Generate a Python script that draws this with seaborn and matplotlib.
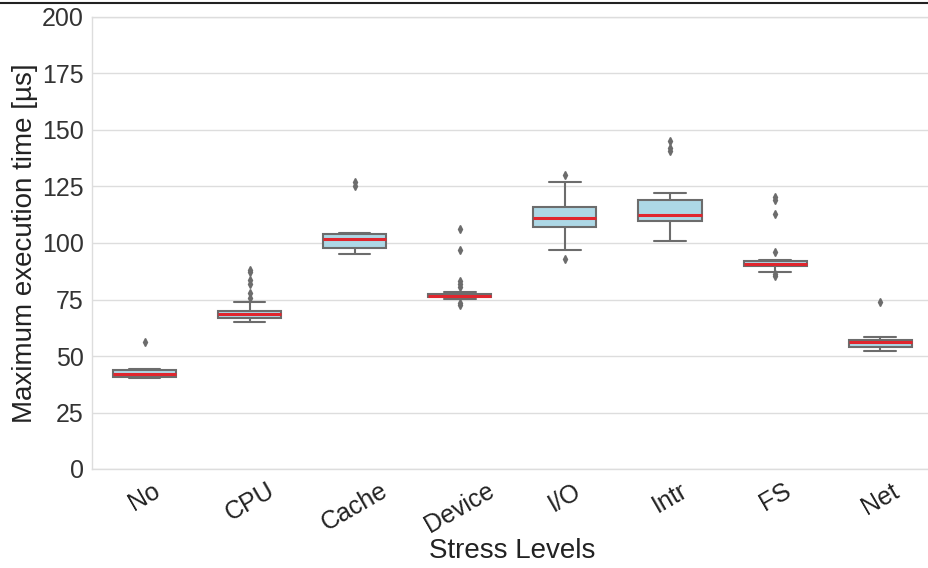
import matplotlib
matplotlib.use("Agg")
import matplotlib.pyplot as plt
from matplotlib.lines import Line2D
import pandas as pd
import seaborn as sns

# Maximum execution time samples [µs] per stress scenario
stress_levels = ["No", "CPU", "Cache", "Device", "I/O", "Intr", "FS", "Net"]

time_no = [40.4, 40.6, 40.7, 40.8, 40.9, 40.9, 41.2, 41.5, 41.7, 41.9, 42.0,
           42.4, 42.8, 43.2, 43.5, 43.8, 43.9, 44.0, 44.1, 44.2, 56.0]
time_cpu = [65.2, 65.6, 66.0, 66.2, 66.4, 66.6, 66.8, 66.9, 67.2, 67.5, 67.8,
            68.0, 68.2, 68.4, 68.6, 68.8, 69.0, 69.2, 69.4, 69.6, 69.8, 70.0,
            74.0, 75.5, 78.0, 82.0, 83.5, 87.0, 88.0]
time_cache = [95.0, 96.0, 96.8, 97.2, 97.5, 97.8, 98.5, 99.5, 100.5, 101.2,
              101.8, 102.3, 102.8, 103.3, 103.7, 104.1, 104.1, 104.2, 104.3,
              125.4, 126.9]
time_device = [72.5, 73.3, 75.2, 75.4, 75.5, 75.6, 75.7, 75.9, 76.0, 76.1,
               76.2, 76.3, 76.4, 76.4, 76.5, 76.5, 76.6, 76.7, 76.8, 76.9,
               77.0, 77.1, 77.3, 77.4, 77.6, 77.8, 78.0, 78.2, 80.5, 81.7,
               83.3, 97.0, 106.0]
time_io = [92.9, 97.0, 100.5, 103.0, 105.0, 106.9, 107.8, 108.6, 109.5, 110.4,
           111.2, 112.0, 112.8, 113.7, 114.8, 115.9, 117.5, 119.5, 122.0,
           127.0, 130.1]
time_intr = [100.9, 103.5, 105.5, 107.0, 108.2, 109.2, 109.9, 110.4, 110.9,
             111.4, 111.8, 112.2, 112.6, 113.5, 114.5, 115.5, 116.6, 117.8,
             119.0, 120.0, 121.0, 122.3, 140.8, 141.9, 145.3]
time_fs = [85.6, 86.1, 87.2, 88.0, 88.6, 89.0, 89.3, 89.6, 89.8, 89.9, 90.0,
           90.1, 90.2, 90.3, 90.4, 90.5, 90.6, 90.7, 90.8, 91.0, 91.2, 91.4,
           91.6, 91.8, 92.0, 92.1, 92.2, 92.4, 92.5, 95.9, 112.8, 119.0, 120.2]
time_net = [52.2, 52.6, 53.0, 53.3, 53.6, 53.8, 54.3, 54.8, 55.3, 55.8, 56.3,
            56.4, 56.6, 56.8, 57.0, 57.1, 57.4, 57.7, 58.0, 58.3, 74.0]

y_ticks = [0, 25, 50, 75, 100, 125, 150, 175, 200]

samples = [time_no, time_cpu, time_cache, time_device,
           time_io, time_intr, time_fs, time_net]
df = pd.DataFrame({
    "Stress": [lvl for lvl, vals in zip(stress_levels, samples) for _ in vals],
    "Time": [v for vals in samples for v in vals],
})

sns.set_theme(style="whitegrid")
plt.rcParams["font.family"] = ["Liberation Sans", "DejaVu Sans"]

fig = plt.figure(figsize=(9.29, 5.68), dpi=100)
ax = fig.add_axes([92 / 929, 99 / 568, 1 - 92 / 929 + 0.004, 452 / 568])

line_gray = "#6c6c6c"
sns.boxplot(
    data=df, x="Stress", y="Time", order=stress_levels, ax=ax,
    color="#add8e6", width=0.6, linecolor=line_gray, linewidth=1.5,
    medianprops=dict(color="#e0262e", linewidth=2.2),
    flierprops=dict(marker="d", markersize=4, markerfacecolor=line_gray,
                    markeredgecolor=line_gray),
    saturation=1,
)

ax.set_ylim(0, 200)
ax.set_yticks(y_ticks)
ax.set_xlim(-0.5, 7.5)
ax.grid(axis="y", color="#dddddd", linewidth=1.0)
ax.grid(axis="x", visible=False)
for side in ["left", "bottom", "top", "right"]:
    ax.spines[side].set_color("#dddddd")
    ax.spines[side].set_linewidth(1.0)

ax.tick_params(axis="y", length=0, labelsize=18, labelcolor="#333333", pad=6)
ax.tick_params(axis="x", length=0, labelsize=18, labelcolor="#222222",
               rotation=30, pad=7)
ax.set_xlabel("Stress Levels", fontsize=20, color="#222222", labelpad=0)
ax.set_ylabel("Maximum execution time [µs]", fontsize=20, color="#222222",
              labelpad=3)

# Rule across the top of the figure
fig.add_artist(Line2D([0, 1], [1 - 3 / 568, 1 - 3 / 568], color="#222222",
                      linewidth=1.5, transform=fig.transFigure))

fig.savefig("out.png", dpi=100)
